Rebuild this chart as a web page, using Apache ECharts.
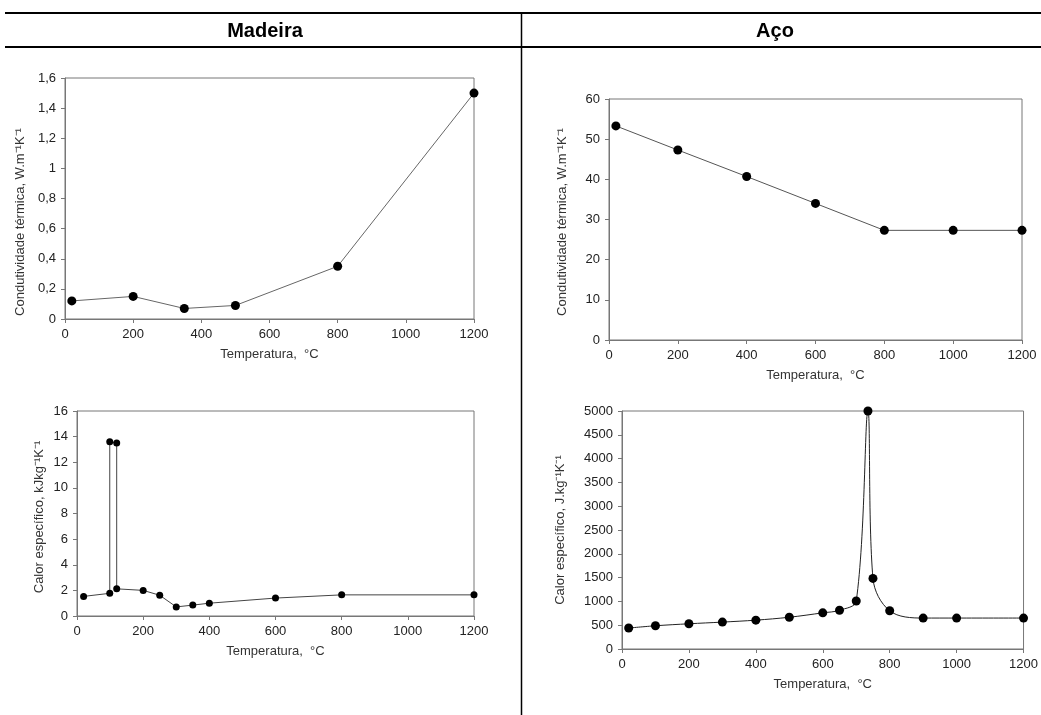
<!DOCTYPE html>
<html>
<head>
<meta charset="utf-8">
<script src="https://cdn.jsdelivr.net/npm/echarts@6/dist/echarts.min.js"></script>
<style>
  html, body { margin: 0; padding: 0; background: #fff; }
  #main { width: 1041px; height: 715px; }
</style>
</head>
<body>
<div id="main"></div>
<script>
// Madeira - condutividade térmica
var tempWoodK = [20, 200, 350, 500, 800, 1200];
var condWood = [0.12, 0.15, 0.07, 0.09, 0.35, 1.5];
// Aço - condutividade térmica
var tempSteelK = [20, 200, 400, 600, 800, 1000, 1200];
var condSteel = [53.3, 47.3, 40.7, 34.0, 27.3, 27.3, 27.3];
// Madeira - calor específico
var tempWoodC = [20, 99, 99, 120, 120, 200, 250, 300, 350, 400, 600, 800, 1200];
var heatWood = [1.53, 1.77, 13.6, 13.5, 2.12, 2.0, 1.62, 0.71, 0.85, 1.0, 1.4, 1.65, 1.65];
// Aço - calor específico
var tempSteelC = [20, 100, 200, 300, 400, 500, 600, 650, 700, 735, 750, 800, 900, 1000, 1200];
var heatSteel = [440, 488, 530, 565, 606, 667, 760, 814, 1008, 5000, 1483, 803, 650, 650, 650];

var font = "'Liberation Sans', Arial, sans-serif";
var axisGray = "#777";

function pairs(xs, ys) {
  return xs.map(function (x, i) { return [x, ys[i]]; });
}

function plain(v) { return String(v); }

function xAxisFor(idx) {
  return {
    type: "value", gridIndex: idx, min: 0, max: 1200, interval: 200,
    name: "Temperatura,  °C", nameLocation: "middle", nameGap: 29,
    nameTextStyle: { fontFamily: font, fontSize: 13, color: "#333" },
    axisLine: { lineStyle: { color: axisGray } },
    axisTick: { length: 4, lineStyle: { color: axisGray } },
    axisLabel: { margin: 9, fontFamily: font, fontSize: 13, color: "#222", formatter: plain },
    splitLine: { show: false }
  };
}

function yAxisFor(idx, max, step, fmt) {
  return {
    type: "value", gridIndex: idx, min: 0, max: max, interval: step,
    axisLine: { show: true, lineStyle: { color: axisGray } },
    axisTick: { show: true, length: 4, lineStyle: { color: axisGray } },
    axisLabel: { margin: 9, fontFamily: font, fontSize: 13, color: "#222", formatter: fmt || plain },
    splitLine: { show: false }
  };
}

function yTitle(text, x, y) {
  return {
    type: "text", x: x, y: y, rotation: Math.PI / 2,
    style: { text: text, font: "13px " + font, fill: "#333", align: "center", verticalAlign: "middle" }
  };
}

var chart = echarts.init(document.getElementById("main"));

var option = {
  animation: false,
  grid: [
    { left: 65, top: 78, width: 409, height: 241, show: true, borderColor: axisGray, borderWidth: 1 },
    { left: 609, top: 99, width: 413, height: 241, show: true, borderColor: axisGray, borderWidth: 1 },
    { left: 77, top: 411, width: 397, height: 205, show: true, borderColor: axisGray, borderWidth: 1 },
    { left: 622, top: 411, width: 403, height: 238, show: true, borderColor: axisGray, borderWidth: 1 }
  ],
  xAxis: [xAxisFor(0), xAxisFor(1), xAxisFor(2), xAxisFor(3)],
  yAxis: [
    yAxisFor(0, 1.6, 0.2, function (v) { return String(+v.toFixed(1)).replace(".", ","); }),
    yAxisFor(1, 60, 10),
    yAxisFor(2, 16, 2),
    yAxisFor(3, 5000, 500)
  ],
  series: [
    {
      type: "line", xAxisIndex: 0, yAxisIndex: 0, data: pairs(tempWoodK, condWood),
      symbol: "circle", symbolSize: 9, itemStyle: { color: "#000" },
      lineStyle: { color: "#666", width: 1 }
    },
    {
      type: "line", xAxisIndex: 1, yAxisIndex: 1, data: pairs(tempSteelK, condSteel),
      symbol: "circle", symbolSize: 9, itemStyle: { color: "#000" },
      lineStyle: { color: "#555", width: 1 }
    },
    {
      type: "line", xAxisIndex: 2, yAxisIndex: 2, data: pairs(tempWoodC, heatWood),
      symbol: "circle", symbolSize: 7, itemStyle: { color: "#000" },
      lineStyle: { color: "#444", width: 1 }
    },
    {
      type: "line", xAxisIndex: 3, yAxisIndex: 3, data: pairs(tempSteelC, heatSteel),
      symbol: "circle", symbolSize: 9, itemStyle: { color: "#000" },
      smooth: 0.35,
      lineStyle: { color: "#222", width: 1 }
    }
  ],
  graphic: [
    // cabeçalho da tabela
    { type: "line", shape: { x1: 5, y1: 13, x2: 1041, y2: 13 }, style: { stroke: "#000", lineWidth: 2 } },
    { type: "line", shape: { x1: 5, y1: 47, x2: 1041, y2: 47 }, style: { stroke: "#000", lineWidth: 2 } },
    { type: "line", shape: { x1: 521.5, y1: 13, x2: 521.5, y2: 715 }, style: { stroke: "#000", lineWidth: 1.5 } },
    { type: "text", x: 265, y: 31, style: { text: "Madeira", font: "bold 20px " + font, fill: "#000", align: "center", verticalAlign: "middle" } },
    { type: "text", x: 775, y: 31, style: { text: "Aço", font: "bold 20px " + font, fill: "#000", align: "center", verticalAlign: "middle" } },
    // títulos dos eixos y
    yTitle("Condutividade térmica, W.m⁻¹K⁻¹", 20, 222),
    yTitle("Condutividade térmica, W.m⁻¹K⁻¹", 562, 222),
    yTitle("Calor específico, kJkg⁻¹K⁻¹", 39, 517),
    yTitle("Calor específico, J.kg⁻¹K⁻¹", 560, 530)
  ]
};

chart.setOption(option);
</script>
</body>
</html>
